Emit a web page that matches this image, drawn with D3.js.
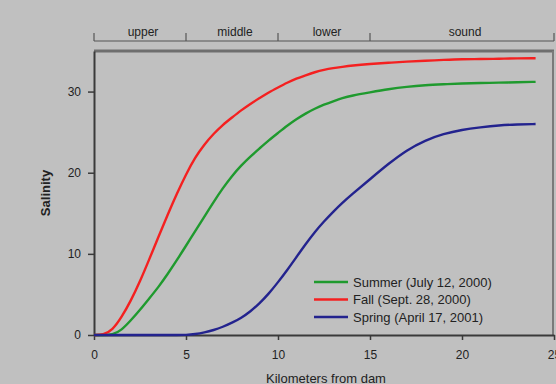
<!DOCTYPE html>
<html>
<head>
<meta charset="utf-8">
<script src="https://cdn.jsdelivr.net/npm/d3@7"></script>
<style>
  html, body { margin: 0; padding: 0; background: #c0c0c0; }
  svg { display: block; }
  text { font-family: "Liberation Sans", Arial, sans-serif; fill: #222; }
</style>
</head>
<body>
<svg id="chart" width="556" height="384"></svg>
<script>
// Salinity profiles along the estuary, km downstream of the dam
const km = [0, 0.5, 1, 1.5, 2, 2.5, 3, 3.5, 4, 4.5, 5, 5.5, 6, 6.5, 7, 7.5, 8, 8.5, 9, 9.5, 10,
            10.5, 11, 11.5, 12, 12.5, 13, 13.5, 14, 15, 16, 17, 18, 19, 20, 21, 22, 23, 24];

const summer = [0, 0, 0, 0.6, 1.8, 3.1, 4.5, 5.9, 7.5, 9.2, 11.0, 12.8, 14.6, 16.4, 18.1, 19.6, 20.9, 22.0, 23.0, 24.0, 24.9,
                25.8, 26.6, 27.3, 27.9, 28.4, 28.8, 29.2, 29.5, 29.9, 30.3, 30.6, 30.8, 30.9, 31.0, 31.05, 31.1, 31.15, 31.2];

const fall = [0, 0, 0.6, 2.2, 4.2, 6.6, 9.3, 12.1, 14.8, 17.4, 19.8, 21.9, 23.5, 24.8, 25.9, 26.8, 27.7, 28.5, 29.2, 29.9, 30.5,
              31.1, 31.6, 32.0, 32.4, 32.7, 32.9, 33.05, 33.2, 33.4, 33.55, 33.7, 33.8, 33.9, 34.0, 34.0, 34.05, 34.1, 34.1];

const spring = [0, 0, 0, 0, 0, 0, 0, 0, 0, 0, 0, 0.1, 0.3, 0.6, 1.0, 1.5, 2.1, 2.9, 3.9, 5.1, 6.5,
                8.0, 9.6, 11.2, 12.7, 14.0, 15.2, 16.3, 17.3, 19.2, 21.1, 22.8, 24.0, 24.8, 25.3, 25.6, 25.85, 25.95, 26.0];

const seriesNames = ["Summer (July 12, 2000)", "Fall (Sept. 28, 2000)", "Spring (April 17, 2001)"];
const seriesColors = ["#1f9a2e", "#f42020", "#23238e"];
const seriesValues = [summer, fall, spring];

const xTicks = [0, 5, 10, 15, 20, 25];
const yTicks = [0, 10, 20, 30];

// Reaches of the estuary shown along the top
const reachNames = ["upper", "middle", "lower", "sound"];
const reachBounds = [0, 5, 10, 15, 25];

const svg = d3.select("#chart");
const margin = { left: 94, right: 2, top: 51, bottom: 49 };
const W = 556, H = 384;

const x = d3.scaleLinear().domain([0, 25]).range([margin.left, W - margin.right]);
const y = d3.scaleLinear().domain([0, 35]).range([H - margin.bottom, margin.top]);

// plot frame (top and right)
svg.append("line")
  .attr("x1", x(0)).attr("x2", x(25)).attr("y1", y(35)).attr("y2", y(35))
  .attr("stroke", "#6e6e6e").attr("stroke-width", 3);
svg.append("line")
  .attr("x1", x(25) - 1).attr("x2", x(25) - 1).attr("y1", y(35)).attr("y2", y(0))
  .attr("stroke", "#7a7a7a").attr("stroke-width", 2);

// bottom axis
const xAxis = svg.append("g")
  .attr("transform", `translate(0,${y(0)})`)
  .call(d3.axisBottom(x).tickValues(xTicks).tickSize(5).tickPadding(10).tickSizeOuter(0));
xAxis.select(".domain").attr("stroke", "#3a3a3a").attr("stroke-width", 2);
xAxis.selectAll(".tick line").attr("stroke", "#3a3a3a").attr("stroke-width", 1.5);
xAxis.selectAll(".tick text").attr("font-size", 12).attr("fill", "#222")
  .attr("font-family", "Liberation Sans, Arial, sans-serif");

// left axis
const yAxis = svg.append("g")
  .attr("transform", `translate(${x(0)},0)`)
  .call(d3.axisLeft(y).tickValues(yTicks).tickSize(6).tickPadding(7).tickSizeOuter(0));
yAxis.select(".domain").attr("stroke", "#3a3a3a").attr("stroke-width", 2);
yAxis.selectAll(".tick line").attr("stroke", "#3a3a3a").attr("stroke-width", 1.5);
yAxis.selectAll(".tick text").attr("font-size", 12).attr("fill", "#222")
  .attr("font-family", "Liberation Sans, Arial, sans-serif");

// axis titles
svg.append("text")
  .attr("x", (x(0) + x(25)) / 2 + 2).attr("y", 383)
  .attr("text-anchor", "middle").attr("font-size", 13)
  .text("Kilometers from dam");
svg.append("text")
  .attr("transform", `translate(50,${(y(0) + y(35)) / 2}) rotate(-90)`)
  .attr("text-anchor", "middle").attr("font-size", 13).attr("font-weight", "bold")
  .text("Salinity");

// top reach bracket
const topY = 41;
const reach = svg.append("g");
reach.append("line")
  .attr("x1", x(reachBounds[0])).attr("x2", x(reachBounds[reachBounds.length - 1]))
  .attr("y1", topY).attr("y2", topY)
  .attr("stroke", "#555").attr("stroke-width", 1.2);
reach.selectAll("line.b").data(reachBounds).join("line")
  .attr("class", "b")
  .attr("x1", d => x(d)).attr("x2", d => x(d))
  .attr("y1", topY - 8).attr("y2", topY)
  .attr("stroke", "#555").attr("stroke-width", 1.2);
reach.selectAll("text").data(reachNames).join("text")
  .attr("x", (d, i) => (x(reachBounds[i]) + x(reachBounds[i + 1])) / 2 + 3)
  .attr("y", 36)
  .attr("text-anchor", "middle").attr("font-size", 12)
  .text(d => d);

// salinity curves
const line = d3.line()
  .x((d, i) => x(km[i]))
  .y(d => y(d))
  .curve(d3.curveBasis);

svg.append("g").selectAll("path").data(seriesValues).join("path")
  .attr("d", d => line(d))
  .attr("fill", "none")
  .attr("stroke", (d, i) => seriesColors[i])
  .attr("stroke-width", 2.4);

// legend
const legend = svg.append("g").attr("transform", "translate(314,282)");
seriesNames.forEach((name, i) => {
  const row = legend.append("g").attr("transform", `translate(0,${i * 17.5})`);
  row.append("line").attr("x1", 0).attr("x2", 34).attr("y1", 0).attr("y2", 0)
    .attr("stroke", seriesColors[i]).attr("stroke-width", 2.6);
  row.append("text").attr("x", 39).attr("y", 4.5).attr("font-size", 13)
    .text(name);
});
</script>
</body>
</html>
